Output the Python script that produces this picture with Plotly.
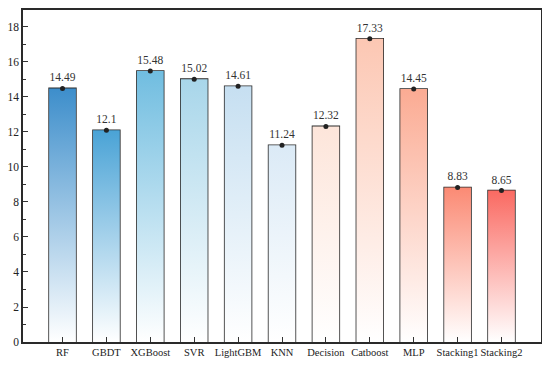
import plotly.graph_objects as go

categories = ["RF", "GBDT", "XGBoost", "SVR", "LightGBM", "KNN", "Decision",
              "Catboost", "MLP", "Stacking1", "Stacking2"]
values = [14.49, 12.1, 15.48, 15.02, 14.61, 11.24, 12.32, 17.33, 14.45, 8.83, 8.65]
labels = ["14.49", "12.1", "15.48", "15.02", "14.61", "11.24", "12.32",
          "17.33", "14.45", "8.83", "8.65"]
top_colors = ["#3d8ecb", "#4aa3d6", "#70bde0", "#a8d6ea", "#c6dff1", "#dbeaf6",
              "#fde5da", "#fcc7b3", "#fbab93", "#fb8a74", "#fa6a62"]

BAR_W = 0.61
xs = list(range(len(categories)))

fig = go.Figure()

# gradient fills
for i, (v, c) in enumerate(zip(values, top_colors)):
    x0, x1 = i - BAR_W / 2, i + BAR_W / 2
    fig.add_trace(go.Scatter(
        x=[x0, x1, x1, x0, x0], y=[0, 0, v, v, 0],
        mode="lines", line=dict(width=0), fill="toself",
        fillgradient=dict(type="vertical",
                          colorscale=[[0, "rgba(255,255,255,1)"], [1, c]]),
        hoverinfo="skip", showlegend=False))

# outlines
fig.add_trace(go.Bar(
    x=xs, y=values, width=BAR_W,
    marker=dict(color="rgba(0,0,0,0)", line=dict(color="#2a2a2a", width=1.6)),
    showlegend=False))

# top points + labels
fig.add_trace(go.Scatter(
    x=xs, y=values, mode="markers+text",
    marker=dict(color="#222222", size=5),
    text=labels, textposition="top center",
    textfont=dict(family="Liberation Serif", size=11.5, color="#333333"),
    showlegend=False, cliponaxis=False))

# page body has an 8px margin, so the figure is offset by 8px
fig.update_layout(
    width=542, height=358,
    margin=dict(l=15, r=9, t=2, b=24, autoexpand=False),
    paper_bgcolor="white", plot_bgcolor="white",
    font=dict(family="Liberation Serif", size=12, color="#222222"),
)
fig.update_xaxes(
    range=[-0.9, 10.9], tickmode="array", tickvals=xs, ticktext=categories,
    tickangle=0, automargin=False,
    ticks="inside", ticklen=5, tickwidth=1.2, tickcolor="#333333",
    showline=True, linecolor="#2a2a2a", linewidth=1.6, mirror=True,
    showgrid=False, zeroline=False, tickfont=dict(size=10.5))
fig.update_yaxes(
    range=[0, 18.97], tickmode="linear", tick0=0, dtick=2, automargin=False,
    ticks="inside", ticklen=5, tickwidth=1.2, tickcolor="#333333",
    minor=dict(ticks="inside", ticklen=3, dtick=1, tickcolor="#333333"),
    showline=True, linecolor="#2a2a2a", linewidth=1.6, mirror=True,
    showgrid=False, zeroline=False, tickfont=dict(size=11.5),
    ticklabelstandoff=0)

fig.write_html("out.html")
